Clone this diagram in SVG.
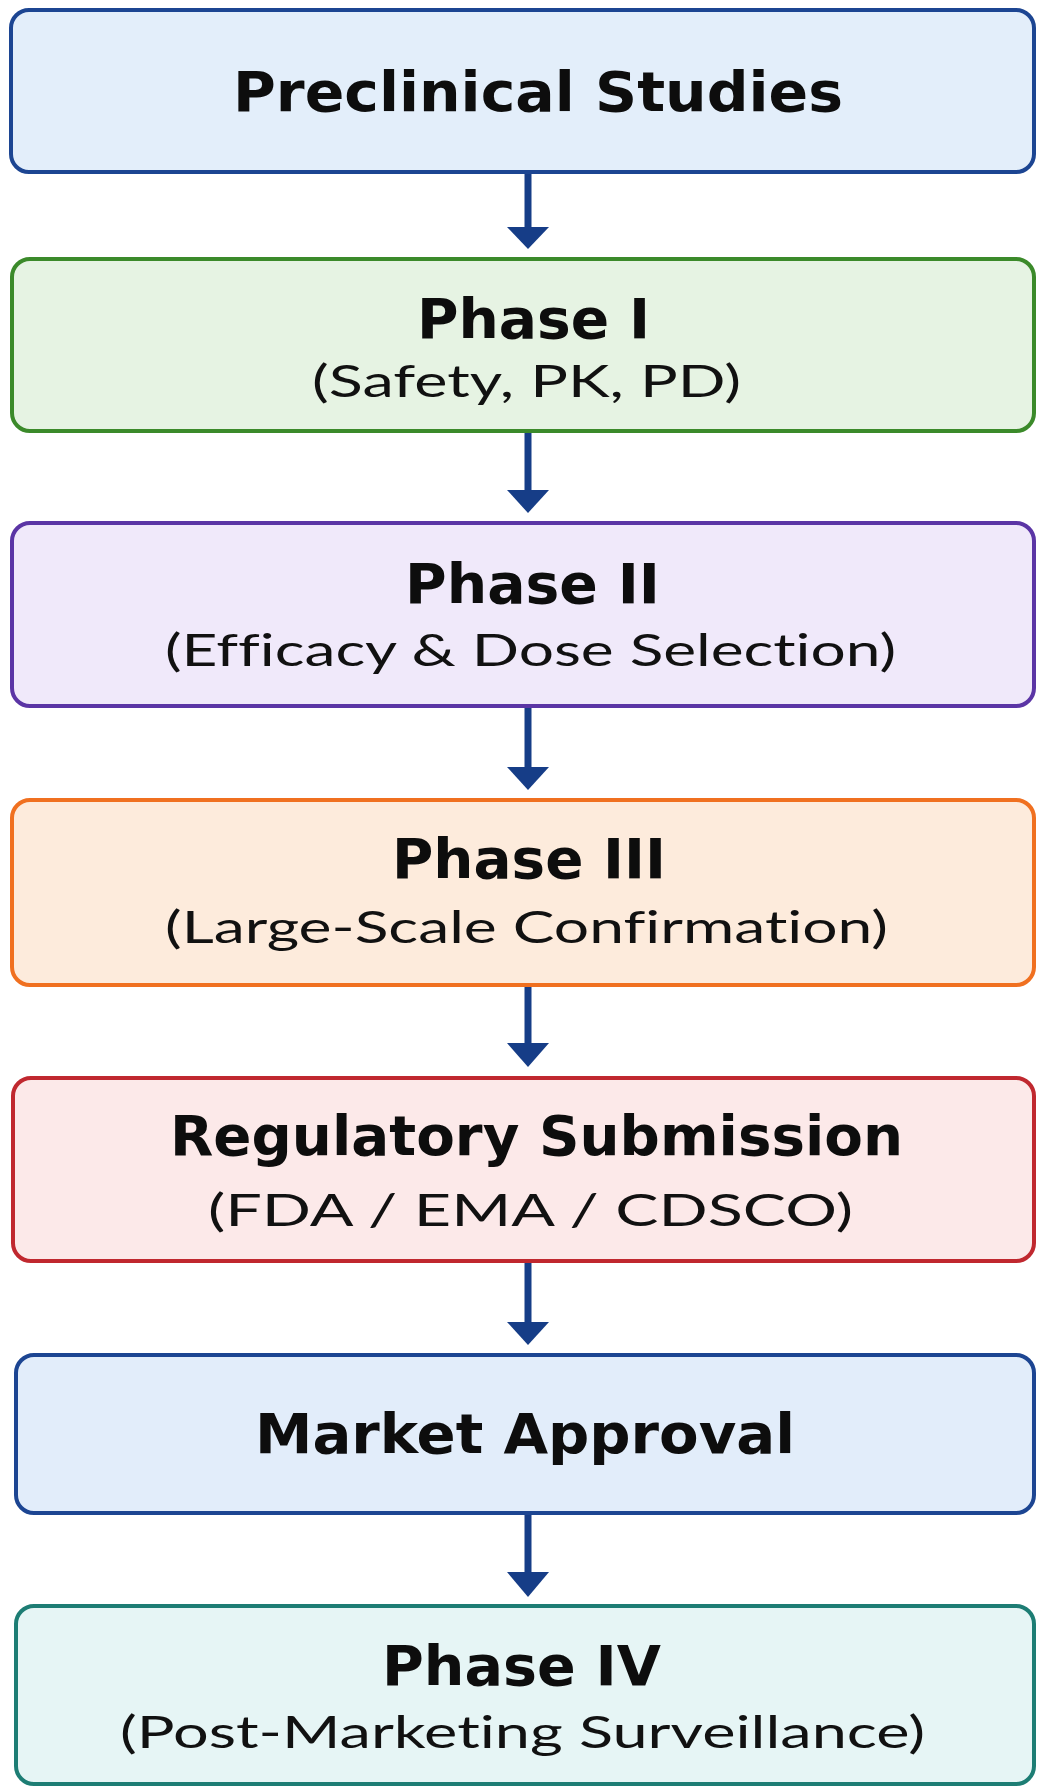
<svg xmlns="http://www.w3.org/2000/svg" width="1038" height="1789" viewBox="0 0 1038 1789">
<defs>
<style>
.box{stroke-width:4}
.t{font-family:"DejaVu Sans","Liberation Sans",sans-serif;font-weight:700;font-size:55px;fill:#0d0d0d;text-anchor:middle}
.s{font-family:Lato,"Liberation Sans",sans-serif;font-weight:400;font-size:45px;fill:#111;text-anchor:middle;font-variant-ligatures:none;font-feature-settings:"liga" 0,"clig" 0,"dlig" 0}
.shaft{stroke:#163d87;stroke-width:7;fill:none}
.head{fill:#163d87}
</style>
</defs>
<rect width="1038" height="1789" fill="#ffffff"/>
<g id="connectors">
<line class="shaft" x1="528" y1="174" x2="528" y2="229"/><polygon class="head" points="507,227 549,227 528,249"/>
<line class="shaft" x1="528" y1="433" x2="528" y2="492"/><polygon class="head" points="507,490 549,490 528,513"/>
<line class="shaft" x1="528" y1="708" x2="528" y2="769"/><polygon class="head" points="507,767 549,767 528,790"/>
<line class="shaft" x1="528" y1="987" x2="528" y2="1045"/><polygon class="head" points="507,1043 549,1043 528,1067"/>
<line class="shaft" x1="528" y1="1263" x2="528" y2="1324"/><polygon class="head" points="507,1322 549,1322 528,1345"/>
<line class="shaft" x1="528" y1="1515" x2="528" y2="1574"/><polygon class="head" points="507,1572 549,1572 528,1597"/>
</g>
<g id="preclinical">
<rect class="box" x="11" y="10" width="1023" height="162" rx="18" fill="#e3eefa" stroke="#1c4592"/>
<text class="t" x="538" y="111" textLength="610" lengthAdjust="spacingAndGlyphs">Preclinical Studies</text>
</g>
<g id="phase1">
<rect class="box" x="12" y="259" width="1022" height="172" rx="18" fill="#e6f3e3" stroke="#3b8a2a"/>
<text class="t" x="533.5" y="338" textLength="233" lengthAdjust="spacingAndGlyphs">Phase I</text>
<text class="s" x="526.5" y="397" textLength="429" lengthAdjust="spacingAndGlyphs">(Safety, PK, PD)</text>
</g>
<g id="phase2">
<rect class="box" x="12" y="523" width="1022" height="183" rx="18" fill="#f0e9fa" stroke="#5b35a5"/>
<text class="t" x="532.5" y="603" textLength="255" lengthAdjust="spacingAndGlyphs">Phase II</text>
<text class="s" x="530.5" y="666" textLength="731" lengthAdjust="spacingAndGlyphs">(Efficacy &amp; Dose Selection)</text>
</g>
<g id="phase3">
<rect class="box" x="12" y="800" width="1022" height="185" rx="18" fill="#fdebdc" stroke="#f07020"/>
<text class="t" x="529" y="878" textLength="274" lengthAdjust="spacingAndGlyphs">Phase III</text>
<text class="s" x="526.5" y="943" textLength="723" lengthAdjust="spacingAndGlyphs">(Large-Scale Confirmation)</text>
</g>
<g id="regulatory">
<rect class="box" x="13" y="1078" width="1021" height="183" rx="18" fill="#fce9e9" stroke="#c0282f"/>
<text class="t" x="536.5" y="1155" textLength="733" lengthAdjust="spacingAndGlyphs">Regulatory Submission</text>
<text class="s" x="530.5" y="1226" textLength="645" lengthAdjust="spacingAndGlyphs">(FDA / EMA / CDSCO)</text>
</g>
<g id="market">
<rect class="box" x="16" y="1355" width="1018" height="158" rx="18" fill="#e2edfa" stroke="#1c4592"/>
<text class="t" x="525" y="1453" textLength="540" lengthAdjust="spacingAndGlyphs">Market Approval</text>
</g>
<g id="phase4">
<rect class="box" x="16" y="1606" width="1018" height="178" rx="18" fill="#e6f5f5" stroke="#1d7d74"/>
<text class="t" x="521.5" y="1685" textLength="279" lengthAdjust="spacingAndGlyphs">Phase IV</text>
<text class="s" x="522.5" y="1748" textLength="805" lengthAdjust="spacingAndGlyphs">(Post-Marketing Surveillance)</text>
</g>
</svg>
